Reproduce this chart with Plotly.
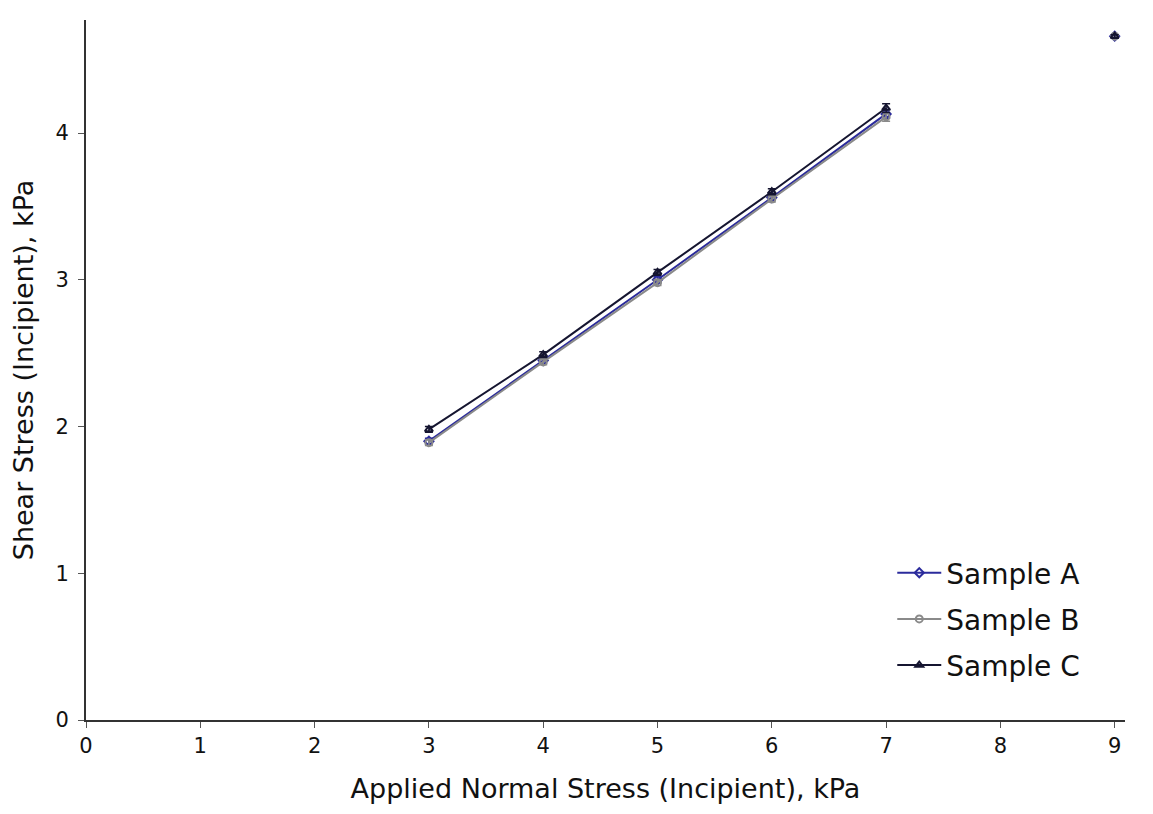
import plotly.graph_objects as go

x_vals = [3, 4, 5, 6, 7, 8, 9]
sample_a = [1.90, 2.45, 3.00, 3.56, 4.13, None, 4.66]
sample_b = [1.89, 2.44, 2.98, 3.55, 4.11, None, 4.66]
sample_c = [1.98, 2.49, 3.05, 3.60, 4.17, None, 4.66]
err_a = [0.02, 0.02, 0.02, 0.02, 0.03, 0, 0.01]
err_b = [0.02, 0.02, 0.02, 0.02, 0.03, 0, 0.01]
err_c = [0.02, 0.02, 0.02, 0.02, 0.03, 0, 0.01]

series = [
    ("Sample A", sample_a, err_a, "#2b2b9c", "diamond-open", "legend", 0.21),
    ("Sample B", sample_b, err_b, "#8a8a8a", "circle-open", "legend2", 0.144),
    ("Sample C", sample_c, err_c, "#151530", "triangle-up-open", "legend3", 0.078),
]

FONT = "DejaVu Sans"

fig = go.Figure()
legends = {}
for name, ys, es, col, sym, leg, ly in series:
    fig.add_trace(go.Scatter(
        x=x_vals, y=ys, name=name, mode="lines+markers",
        line=dict(color=col, width=2),
        marker=dict(symbol=sym, size=7, color=col, line=dict(width=2, color=col)),
        error_y=dict(type="data", array=es, visible=True, color=col, thickness=1.5, width=4),
        connectgaps=False, legend=leg,
    ))
    legends[leg] = dict(x=0.776, y=ly, xanchor="left", yanchor="middle",
                        font=dict(size=28, color="#111", family=FONT),
                        bgcolor="rgba(0,0,0,0)", itemwidth=44)

fig.update_layout(
    width=1145, height=806,
    margin=dict(l=78, r=28, t=12, b=94),
    paper_bgcolor="white", plot_bgcolor="white",
    font=dict(family=FONT, color="#111", size=20),
    showlegend=True,
    xaxis=dict(range=[0, 9.09], tickvals=[0, 1, 2, 3, 4, 5, 6, 7, 8, 9],
               showgrid=False, zeroline=False, showline=True, linecolor="#333",
               linewidth=2, ticks="outside", ticklen=6, tickwidth=1, tickcolor="#555",
               tickfont=dict(size=21, family=FONT), automargin=False,
               title=dict(text="Applied Normal Stress (Incipient), kPa", font=dict(size=27, family=FONT), standoff=22)),
    yaxis=dict(range=[0, 4.77], tickvals=[0, 1, 2, 3, 4],
               showgrid=False, zeroline=False, showline=True, linecolor="#333",
               linewidth=2, ticks="outside", ticklen=6, tickwidth=1, tickcolor="#555",
               tickfont=dict(size=21, family=FONT), automargin=False, ticklabelstandoff=5,
               title=dict(text="Shear Stress (Incipient), kPa", font=dict(size=27, family=FONT), standoff=22)),
    **legends,
)

fig.write_html("out.html")
